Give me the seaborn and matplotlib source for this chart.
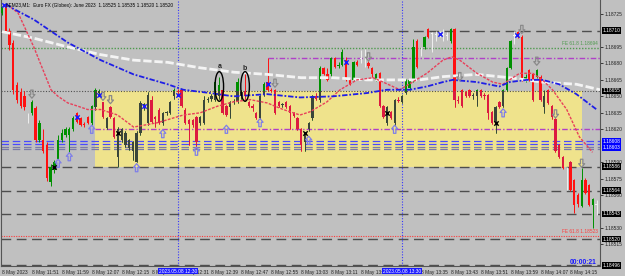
import matplotlib
matplotlib.use("Agg")
import matplotlib.pyplot as plt
import seaborn as sns
import numpy as np
import pandas as pd
from matplotlib.patches import Rectangle, Ellipse
from matplotlib.path import Path

# ---------------- data (prices in points of 0.00001 above BASE) ----------------
BASE = 1.18500
PT = 0.00001

open_pts = [226, 231, 210, 199, 160, 154, 150, 130, 135, 139, 110, 110, 106, 72, 83, 93, 110, 115, 115, 120,
            135, 130, 125, 131, 126, 140, 153, 145, 121, 140, 130, 95, 110, 106, 103, 100, 90, 117, 140, 126,
            147, 131, 138, 126, 135, 135, 150, 155, 156, 138, 128, 128, 131, 126, 126, 147, 148, 147, 150, 156,
            141, 140, 145, 146, 150, 155, 145, 141, 135, 130, 151, 163, 156, 156, 145, 142, 145, 141, 135, 130,
            120, 108, 120, 130, 150, 147, 176, 170, 170, 185, 178, 179, 183, 165, 165, 181, 184, 181, 180, 176,
            165, 171, 141, 126, 136, 126, 147, 145, 153, 158, 165, 200, 190, 195, 211, 207, 206, 207, 206, 205,
            200, 211, 147, 156, 154, 156, 150, 150, 156, 151, 151, 136, 127, 145, 141, 156, 176, 205, 209, 204,
            166, 174, 170, 168, 168, 140, 156, 141, 129, 106, 95, 80, 90, 74, 60, 50, 74, 69, 51, 51]
high_pts = [232, 233, 212, 201, 163, 158, 155, 135, 147, 141, 128, 120, 108, 88, 92, 115, 120, 122, 122, 132,
            136, 131, 127, 132, 142, 158, 157, 145, 131, 141, 131, 122, 121, 118, 111, 109, 118, 146, 144, 154,
            150, 132, 139, 136, 137, 146, 158, 157, 157, 139, 129, 129, 132, 132, 150, 149, 152, 165, 168, 158,
            142, 146, 148, 167, 156, 172, 146, 143, 136, 151, 163, 185, 158, 157, 146, 144, 146, 142, 136, 131,
            121, 116, 127, 151, 153, 178, 177, 176, 186, 186, 181, 193, 186, 166, 182, 183, 192, 193, 182, 177,
            171, 172, 142, 141, 137, 148, 149, 151, 166, 166, 202, 202, 195, 205, 212, 209, 210, 210, 211, 209,
            212, 212, 150, 157, 155, 157, 153, 157, 157, 153, 152, 137, 141, 146, 157, 177, 201, 210, 210, 206,
            170, 175, 171, 175, 169, 156, 157, 142, 130, 107, 96, 86, 91, 75, 62, 85, 76, 70, 57, 56]
low_pts = [224, 208, 192, 152, 144, 139, 138, 126, 133, 108, 108, 98, 73, 68, 80, 93, 108, 113, 99, 118,
           126, 123, 122, 125, 124, 138, 150, 130, 120, 130, 112, 86, 108, 104, 101, 92, 90, 115, 138, 124,
           126, 122, 125, 124, 133, 134, 148, 152, 140, 125, 106, 122, 103, 124, 125, 145, 146, 146, 148, 134,
           132, 130, 143, 144, 148, 147, 140, 137, 129, 129, 150, 155, 154, 134, 140, 140, 139, 120, 131, 119,
           100, 100, 118, 128, 147, 145, 169, 164, 168, 176, 176, 178, 164, 160, 164, 178, 180, 177, 176, 168,
           164, 140, 130, 124, 129, 124, 145, 144, 152, 156, 163, 176, 187, 193, 203, 190, 200, 204, 200, 201,
           199, 140, 144, 140, 149, 149, 148, 141, 149, 148, 129, 125, 117, 139, 140, 155, 175, 198, 203, 164,
           163, 164, 146, 167, 146, 135, 143, 129, 99, 94, 84, 65, 64, 44, 49, 49, 61, 50, 30, 42]
close_pts = [231, 209, 197, 156, 147, 141, 140, 130, 145, 110, 126, 100, 76, 86, 90, 110, 117, 120, 120, 130,
             127, 124, 124, 126, 141, 156, 155, 131, 130, 131, 113, 120, 120, 117, 110, 108, 117, 144, 143, 151,
             127, 129, 126, 135, 136, 145, 156, 154, 141, 126, 125, 124, 108, 131, 147, 148, 150, 163, 160, 135,
             133, 145, 146, 163, 154, 150, 141, 139, 130, 150, 161, 156, 155, 135, 141, 143, 140, 135, 132, 120,
             106, 115, 126, 150, 148, 176, 170, 165, 185, 177, 179, 190, 165, 161, 181, 179, 184, 181, 178, 170,
             170, 141, 131, 140, 130, 147, 146, 150, 165, 165, 195, 177, 190, 204, 204, 207, 206, 207, 206, 205,
             211, 147, 146, 141, 150, 150, 151, 156, 150, 150, 135, 126, 140, 140, 156, 176, 200, 205, 204, 165,
             168, 165, 147, 174, 147, 150, 144, 131, 100, 95, 85, 80, 65, 51, 52, 74, 62, 51, 56, 51]

time_labels = ["8 May 2023", "8 May 11:51", "8 May 11:59", "8 May 12:07", "8 May 12:15", "8 May 12:23",
               "8 May 12:31", "8 May 12:39", "8 May 12:47", "8 May 12:55", "8 May 13:03", "8 May 13:11",
               "8 May 13:19", "8 May 13:27", "8 May 13:35", "8 May 13:43", "8 May 13:51", "8 May 13:59",
               "8 May 14:07", "8 May 14:15"]
time_label_bars = list(range(0, 160, 8))

white_ma_bar = [0, 8.5, 17.6, 26.4, 35.2, 44.3, 53, 62, 71, 80, 88.5, 97.6, 106.4, 111.7, 118, 127, 135.7,
                144.5, 153.6, 159.9]
white_ma_pts = [209, 203, 195, 188, 183, 181, 176, 172, 170, 167, 167, 165, 165, 165, 168, 170, 167, 163, 161, 156]
blue_ma_bar = [1.1, 2.4, 8.5, 17.6, 26.4, 35.2, 44.3, 48.5, 55.7, 61.9, 70.9, 79.7, 88.5, 97.6, 102.9, 109,
               113.6, 117.9, 120.5, 127, 133, 135.7, 140.3, 144.5, 149, 153.6, 159]
blue_ma_pts = [234, 231, 220, 199, 183, 170, 161, 156, 153, 150, 152, 149, 150, 153, 156, 156, 159, 163, 165,
               163, 159, 163, 165, 165, 161, 152, 138]
red_ma_bar = [2.4, 4.3, 8.5, 13.1, 15, 17.6, 20.3, 22.9, 26.4, 30.9, 35.2, 41.6, 48.5, 53, 57.6, 61.9, 66.4,
              70.9, 75.2, 79.7, 82.4, 86.9, 90.4, 94.9, 99.2, 101.9, 106.4, 113.6, 117.9, 120.3, 122.4, 127,
              131.2, 133.9, 135.7, 138.4, 141.9, 144.5, 147.2, 151, 154.4, 157.9]
red_ma_pts = [231, 226, 195, 156, 150, 144, 141, 138, 138, 133, 122, 126, 133, 135, 141, 145, 147, 144, 138,
              133, 136, 145, 156, 165, 167, 163, 156, 171, 183, 186, 183, 171, 163, 161, 165, 171, 171, 165,
              156, 138, 113, 99]

up_arrow_bar = [15, 18, 24, 36, 43, 52, 60, 69, 82, 105, 134]
up_arrow_pts = [89, 95, 120, 85, 116, 100, 120, 126, 110, 120, 135]
down_arrow_bar = [8, 27, 29, 73, 98, 122.4, 139, 143, 148, 155]
down_arrow_pts = [152, 150, 147, 162, 186, 168, 211, 182, 134, 89]
blue_x_bar = [0.5, 20, 26, 38, 47, 71, 92, 117, 137.6]
blue_x_pts = [233, 131, 151, 141, 151, 161, 181, 207, 206]
black_x_bar = [14, 31, 81, 103, 132]
black_x_pts = [86, 117, 117, 135, 126]

zone_bars = (25, 155)
zone_prices = (1.18586, 1.18655)
dashed_levels = [1.18710, 1.18586, 1.18564, 1.18543, 1.18520, 1.18496]
blue_levels = [1.18609, 1.18607]
slate_levels = [1.18604, 1.18602]
fe_high = 1.18694
fe_low = 1.18523
purple_levels = [(1.18685, 71.2), (1.18620, 25)]
session_bars = [47, 107]
session_labels = ["2023.05.08 12:30", "2023.05.08 13:30"]
box_levels = [("1.18710", 1.18710, "black"), ("1.18655", 1.18655, "black"), ("1.18608", 1.18609, "blue"),
              ("1.18603", 1.18603, "blue"), ("1.18586", 1.18586, "black"), ("1.18564", 1.18564, "black"),
              ("1.18543", 1.18543, "black"), ("1.18520", 1.18520, "black"), ("1.18496", 1.18496, "black")]
axis_ticks = [1.18515, 1.18530, 1.18560, 1.18575, 1.18590, 1.18620, 1.18635, 1.18650, 1.18665,
              1.18680, 1.18695, 1.18725]
title = "6EM23,M1:  Euro FX (Globex): June 2023  1.18525 1.18535 1.18520 1.18520"
timer = "00:00:21"

# ---------------- drawing ----------------
sns.set_style("white")
plt.rcParams['font.family'] = ['Liberation Sans', 'DejaVu Sans']

BG = '#c0c0c0'
W, H = 625, 276
fig = plt.figure(figsize=(W / 100, H / 100), dpi=100, facecolor=BG)
ax = fig.add_axes([1.5 / W, (H - 266) / H, 598.5 / W, 266 / H])
ax.set_facecolor(BG)
ax.set_xlim(-0.13, 159.9)
ax.set_ylim(BASE - 4.6 * PT, BASE + 237.8 * PT)

def px(pts):
    return BASE + np.asarray(pts, dtype=float) * PT

# zone
zone = Rectangle((zone_bars[0], zone_prices[0]), zone_bars[1] - zone_bars[0],
                 zone_prices[1] - zone_prices[0], facecolor='#efe38c', edgecolor='none', zorder=0.5)
ax.add_patch(zone)

# horizontal levels
for lv in dashed_levels:
    ax.axhline(lv, color='#4e4e4e', lw=1.0, ls=(0, (7, 4)), zorder=1)
ax.axhline(zone_prices[1], color='#505050', lw=0.8, ls=(0, (1, 1.5)), zorder=1)
for lv in blue_levels:
    ax.axhline(lv, color='#4a4aff', lw=0.9, ls=(0, (6, 3)), zorder=1)
for lv in slate_levels:
    ax.axhline(lv, color='#7a7aa8', lw=0.9, ls=(0, (6, 3)), zorder=1)
ax.axhline(fe_high, color='#4f9a4f', lw=1.0, ls=(0, (1, 1.2)), zorder=1)
ax.axhline(fe_low, color='#ff3a3a', lw=0.8, ls=(0, (1, 1.2)), zorder=1)
for lv, start in purple_levels:
    ax.hlines(lv, start, 159.9, color='#b040c8', lw=1.0, ls=(0, (4, 1.5, 1, 1.5)), zorder=1)
for sb in session_bars:
    ax.axvline(sb, color='#3535ff', lw=0.8, ls=(0, (1, 1.5)), zorder=1)

# candles
idx = np.arange(len(open_pts))
o, h, l, c = px(open_pts), px(high_pts), px(low_pts), px(close_pts)
bull = c > o
bear = c < o
col_out = np.where(bull, '#009000', np.where(bear, '#ff1010', '#efefef'))
col_in = np.where(bull, '#3a463a', np.where(bear, '#dc1a40', '#9a9a9a'))
body_bot = np.minimum(o, c)
body_h = np.maximum(np.abs(c - o), 0.5 * PT)
for cols, clip, z in [(col_out, False, 3), (col_in, True, 3.1)]:
    wl = ax.vlines(idx, l, h, colors=cols, lw=0.7, zorder=z)
    bars = ax.bar(idx, body_h, bottom=body_bot, width=0.62, color=cols, linewidth=0, zorder=z)
    if clip:
        wl.set_clip_path(zone)
        for p in bars.patches:
            p.set_clip_path(zone)

# moving averages
sns.lineplot(x=white_ma_bar, y=px(white_ma_pts), ax=ax, color='#f4f4f4', lw=2.0,
             linestyle=(0, (3, 1)), zorder=4, sort=False, estimator=None)
sns.lineplot(x=blue_ma_bar, y=px(blue_ma_pts), ax=ax, color='#1e1ee6', lw=1.3,
             linestyle=(0, (3, 1, 1, 1)), zorder=4.2, sort=False, estimator=None)
sns.lineplot(x=red_ma_bar, y=px(red_ma_pts), ax=ax, color='#e8405a', lw=1.0,
             linestyle=(0, (2, 1)), zorder=4.1, sort=False, estimator=None)

# arrows
av = [(0, 1), (-0.75, 0.1), (-0.3, 0.1), (-0.3, -1), (0.3, -1), (0.3, 0.1), (0.75, 0.1), (0, 1)]
codes = [Path.MOVETO] + [Path.LINETO] * 6 + [Path.CLOSEPOLY]
up_arrow = Path(av, codes)
down_arrow = Path([(x, -y) for x, y in av], codes)
ax.scatter(up_arrow_bar, px(up_arrow_pts), marker=up_arrow, s=34, facecolors='none',
           edgecolors='#7f7fe8', linewidths=0.9, zorder=5)
ax.scatter(down_arrow_bar, px(down_arrow_pts), marker=down_arrow, s=34, facecolors='none',
           edgecolors='#8a8a8a', linewidths=0.9, zorder=5)
sns.scatterplot(x=blue_x_bar, y=px(blue_x_pts), ax=ax, marker='x', color='#1a1aff', s=10,
                linewidth=1.0, zorder=5)
sns.scatterplot(x=black_x_bar, y=px(black_x_pts), ax=ax, marker='x', color='black', s=10,
                linewidth=1.0, zorder=5)

# ellipses a / b
for cx, lab, ly in [(58.1, 'a', 177), (65.0, 'b', 175.5)]:
    ax.add_patch(Ellipse((cx, px(159)), 2.3, 27 * PT, fill=False, ec='black', lw=1.0, zorder=6))
    ax.text(cx, px(ly), lab, fontsize=5, fontweight='bold', ha='center', va='center', zorder=6)

# FE labels
ax.text(159.3, fe_high + 1.5 * PT, "FE 61.8 1.18694", color='#4f9a4f', fontsize=3.4, ha='right',
        va='bottom', zorder=6)
ax.text(159.3, fe_low + 1.5 * PT, "FE 61.8 1.18523", color='#ff3a3a', fontsize=3.4, ha='right',
        va='bottom', zorder=6)

# axes styling
ax.spines['top'].set_visible(False)
for s in ['left', 'right', 'bottom']:
    ax.spines[s].set_color('#555555')
    ax.spines[s].set_linewidth(0.8)
ax.yaxis.tick_right()
ax.set_yticks(axis_ticks)
ax.set_yticklabels([f"{v:.5f}" for v in axis_ticks])
ax.tick_params(axis='y', which='both', right=True, left=False, length=2, width=0.6, pad=1,
               labelsize=3.5, colors='#222222')
ax.set_xticks(time_label_bars)
ax.set_xticklabels(time_labels)
ax.tick_params(axis='x', length=2, width=0.6, pad=1, labelsize=3.5, colors='#222222')
for t in ax.get_xticklabels():
    t.set_horizontalalignment('left')
ax.set_xlabel('')
ax.set_ylabel('')

ytr = ax.get_yaxis_transform()
for txt, lv, colr in box_levels:
    ax.text(1.004, lv, txt, transform=ytr, fontsize=3.5, color='white', ha='left', va='center',
            bbox=dict(boxstyle='square,pad=0.15', fc=colr, ec='none'), zorder=10, clip_on=False)
xtr = ax.get_xaxis_transform()
for sb, txt in zip(session_bars, session_labels):
    ax.text(sb, -0.019, txt, transform=xtr, fontsize=3.5, color='white', ha='center', va='center',
            bbox=dict(boxstyle='square,pad=0.15', fc='#1a1aff', ec='none'), zorder=10, clip_on=False)

fig.text(6 / W, 1 - 5.5 / H, title, fontsize=3.4, color='black', ha='left', va='center')
fig.text(597 / W, 1 - 262 / H, timer, fontsize=4.8, fontweight='bold', color='#1a1aff', ha='right',
         va='center')

fig.savefig('out.png', dpi=100, facecolor=BG)
